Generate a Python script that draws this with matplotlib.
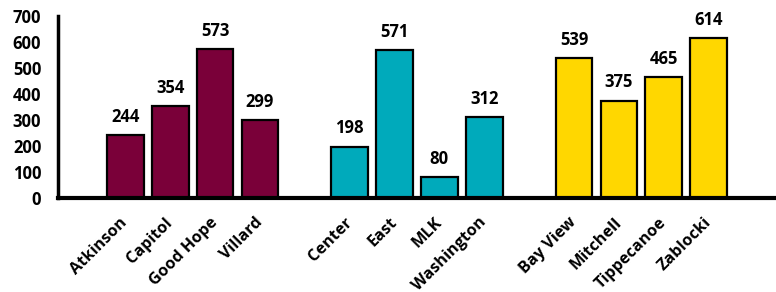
import matplotlib.pyplot as plt

# schools and counts, three groups
group1 = ["Atkinson", "Capitol", "Good Hope", "Villard"]
group2 = ["Center", "East", "MLK", "Washington"]
group3 = ["Bay View", "Mitchell", "Tippecanoe", "Zablocki"]
values1 = [244, 354, 573, 299]
values2 = [198, 571, 80, 312]
values3 = [539, 375, 465, 614]
colors = ["#7A0039", "#00AABB", "#FFD700"]

fig = plt.figure(figsize=(7.76, 2.92), dpi=100)
ax = fig.add_axes([0.0747, 0.322, 0.9253, 0.623])

num_font = "Open Sans"
lbl_font = "Open Sans"

names_all = []
pos_all = []
slot = 1
for names, vals, col in zip([group1, group2, group3], [values1, values2, values3], colors):
    xs = list(range(slot, slot + len(names)))
    bars = ax.bar(xs, vals, width=0.82, color=col, edgecolor="black", linewidth=1.6, zorder=2)
    for b, v in zip(bars, vals):
        ax.annotate(str(v), (b.get_x() + b.get_width() / 2, v), xytext=(0, 6.5),
                    textcoords="offset points", ha="center", va="bottom",
                    fontsize=12, fontweight="bold", family=num_font)
    names_all += names
    pos_all += xs
    slot += len(names) + 1

ax.set_xlim(-0.5, 15.5)
ax.set_ylim(0, 700)
ax.set_yticks(range(0, 701, 100))
ax.set_yticklabels([str(v) for v in range(0, 701, 100)], fontsize=12, fontweight="bold", family=num_font)
ax.set_xticks(pos_all)
ax.set_xticklabels(names_all, rotation=45, ha="right", va="center", rotation_mode="anchor",
                   fontsize=11.7, fontweight="bold", family=lbl_font)
ax.tick_params(axis="x", length=0, pad=16)
ax.tick_params(axis="y", length=0, pad=12)

for s in ["top", "right"]:
    ax.spines[s].set_visible(False)
ax.spines["left"].set_linewidth(2.5)
ax.spines["bottom"].set_linewidth(3)

fig.savefig("out.png", dpi=100)
